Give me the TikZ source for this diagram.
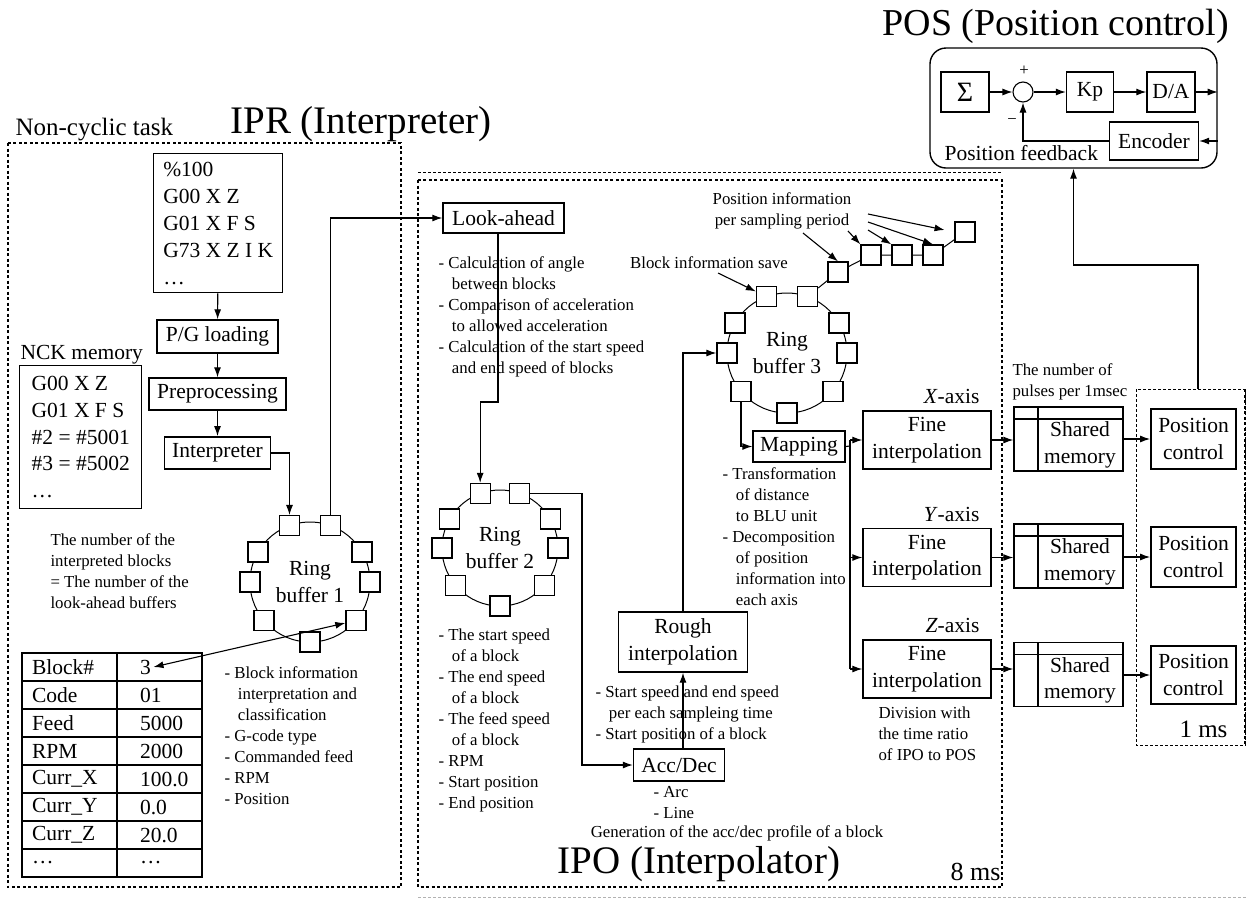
\documentclass[tikz,border=0pt]{standalone}
\usepackage{fontspec}
\setmainfont{Liberation Serif}
\usetikzlibrary{arrows.meta,calc}

\newcommand\boxfont{\fontsize{21.5}{26.5}\selectfont}
\newcommand\notefont{\fontsize{16.8}{21}\selectfont}
\newcommand\titlefont{\fontsize{39}{44}\selectfont}
\newcommand\ind{\hspace*{0.8em}}

\begin{document}
\begin{tikzpicture}[x=1pt, y=-1pt, font=\boxfont, line width=1.1pt,
    >={Latex[length=10pt,width=7pt]},
    blk/.style={draw, line width=1.4pt, inner sep=0pt, align=center},
    tcell/.style={draw, line width=1.4pt, minimum height=28pt, inner ysep=0pt, align=left},
    cell/.style={draw, fill=white, line width=1.3pt, minimum size=20pt, inner sep=0pt},
    ring/.style={draw, circle, line width=1pt, minimum size=120pt, inner sep=0pt, align=center},
    note/.style={font=\notefont, align=left, inner sep=0pt, anchor=north west},
    title/.style={anchor=base west, inner sep=0pt},
    taskbox/.style={dash pattern=on 3pt off 2.5pt, line width=1.8pt},
    thinbox/.style={dash pattern=on 3pt off 2pt, line width=0.9pt},
    shmem/.style={draw, line width=1.4pt, minimum width=109pt, minimum height=64pt, inner sep=0pt,
      path picture={\draw[line width=1.2pt]
        ([yshift=-12pt]path picture bounding box.north west) -- ([yshift=-12pt]path picture bounding box.north east)
        ([xshift=24pt]path picture bounding box.north west) -- ([xshift=24pt]path picture bounding box.south west);}}
]
\useasboundingbox (0,0) rectangle (1248,898);

% Task frames
\draw[taskbox] (8,143) rectangle (401,887);
\draw[taskbox] (418,180) rectangle (1002,887);
\draw[thinbox] (418,172) -- (1002,172);
\draw[thinbox, gray!60] (418,897) -- (1248,897);
\draw[thinbox] (1136,389) rectangle (1245,745);
\draw[taskbox] (1245,389) -- (1245,745);

% Titles
\node[title, font=\fontsize{25}{30}\selectfont] (nct) at (15,135) {Non-cyclic task};
\node[title, font=\titlefont] (iprt) at (230,133) {IPR (Interpreter)};
\node[title, font=\fontsize{38}{42}\selectfont] (post) at (882,35) {POS (Position control)};
\node[title, font=\titlefont] (ipot) at (557,873) {IPO (Interpolator)};
\node[anchor=base east, inner sep=0pt, font=\fontsize{26}{30}\selectfont] (ipoms) at (1001,880) {8 ms};
\node[anchor=base east, inner sep=0pt, font=\fontsize{25}{30}\selectfont] (posms) at (1228,737) {1 ms};

% ================================================================
% IPR (interpreter)
% ================================================================
\node[blk, anchor=north west, align=left, inner xsep=9.5pt, inner ysep=8pt,
      minimum width=129pt, minimum height=139pt, font=\fontsize{21.5}{27}\selectfont] (prog) at (153,153)
    {\%100\\G00 X Z\\G01 X F S\\G73 X Z I K\\\ldots};
\node[blk, minimum width=121pt, minimum height=33pt] (pgl) at (217.5,336.5) {P/G loading};
\node[blk, minimum width=137pt, minimum height=32pt] (pre) at (217.5,394) {Preprocessing};
\node[blk, line width=1.8pt, minimum width=106pt, minimum height=32pt] (interp) at (217.5,453) {Interpreter};

\draw[->] (prog) -- (pgl);
\draw[->] (pgl) -- (pre);
\draw[->] (pre) -- (interp);

\node[anchor=base west, inner sep=0pt] (ncklab) at (20,359) {NCK memory};
\node[blk, anchor=north west, align=left, minimum width=122pt,
      minimum height=143pt, font=\fontsize{21.5}{26.7}\selectfont] (nck) at (19,365)
    {G00 X Z\\G01 X F S\\\#2 = \#5001\\\#3 = \#5002\\\ldots};

\node[note] (nblk) at (50,533)
    {The number of the\\interpreted blocks\\= The number of the\\look-ahead buffers};

% ring buffer 1
\node[ring] (rb1) at (310,582) {Ring\\buffer 1};
\foreach \a [count=\i] in {90,140,180,210,250,290,330,0,40}
  \node[cell] (rb1-\i) at ($(rb1.center)+(\a:60)$) {};

\draw[->] (interp.east) -| (rb1-5.north);

\node[note] (iprlist) at (224,666)
    {- Block information\\\ind interpretation and\\\ind classification\\- G-code type\\- Commanded feed\\- RPM\\- Position};

% block table
\foreach \k/\v [count=\r] in {Block\#/3, Code/01, Feed/5000, RPM/2000,
    Curr\_X/100.0, Curr\_Y/0.0, Curr\_Z/20.0, \ldots/\ldots} {
  \node[tcell, text width=75pt, inner xsep=10pt] (k\r) at (69.5,639+28*\r) {\k};
  \node[tcell, text width=39pt, inner xsep=23pt] (v\r) at (159.5,639+28*\r) {\v};
}
\draw[<->] ([xshift=-6pt]v1.center) -- (rb1-9);

% ================================================================
% IPO (interpolator)
% ================================================================
\node[blk, minimum width=121pt, minimum height=30pt] (look) at (503.5,218) {Look-ahead};
\draw[->] (rb1-6.north) |- (look.west);

\node[note] (looklist) at (438,256)
    {- Calculation of angle\\\ind between blocks\\- Comparison of acceleration\\\ind to allowed acceleration\\- Calculation of the start speed\\\ind and end speed of blocks};

% ring buffer 2
\node[ring, minimum size=116pt] (rb2) at (500,548) {Ring\\buffer 2};
\foreach \a [count=\i] in {90,140,180,210,250,290,330,0,40}
  \node[cell] (rb2-\i) at ($(rb2.center)+(\a:58)$) {};

\coordinate (lk-bend) at (498,402);
\draw[->] (look.south -| lk-bend) -- (lk-bend) -| (rb2-5.north);

\node[note] (rb2list) at (438,628)
    {- The start speed\\\ind of a block\\- The end speed\\\ind of a block\\- The feed speed\\\ind of a block\\- RPM\\- Start position\\- End position};

\node[blk, minimum width=129pt, minimum height=60pt] (rough) at (683,642) {Rough\\interpolation};
\node[blk, minimum width=91pt, minimum height=32pt] (acc) at (679,765) {Acc/Dec};

\coordinate (ad-bend) at (582,765);
\draw[->] (rb2-6.east) -| (ad-bend) -- (acc.west);
\draw[->] (rough.south |- acc.north) -- (rough.south);

\node[note] (roughlist) at (595,685)
    {- Start speed and end speed\\\ind per each sampleing time\\- Start position of a block};
\node[note] (acclist) at (653,786) {- Arc\\- Line};
\node[font=\notefont, inner sep=0pt] (accgen) at (737,833) {Generation of the acc/dec profile of a block};

% ring buffer 3
\node[ring] (rb3) at (787,353) {Ring\\buffer 3};
\foreach \a [count=\i] in {90,140,180,210,250,290,330,0,40}
  \node[cell] (rb3-\i) at ($(rb3.center)+(\a:60)$) {};

\draw[->] (rough.north) |- (rb3-3.west);

% position samples
\foreach \n/\x/\y in {1/838/272, 2/871/255, 3/902/255, 4/933/255, 5/965/232}
  \node[cell] (ch\n) at (\x,\y) {};
\draw[line width=1pt] (rb3-6) -- (ch1) -- (ch2) -- (ch3) -- (ch4) -- (ch5);

\node[font=\notefont, align=center, inner sep=0pt, anchor=north] (posinfo) at (782,192)
    {Position information\\per sampling period};
\coordinate (p1) at (803,233);
\coordinate (p2) at (848,231);
\coordinate (p3) at (868,230);
\coordinate (p4) at (868,222);
\coordinate (p5) at (868,214);
\draw[->] (p1) -- (ch1.north);
\draw[->] (p2) -- (ch2.north west);
\draw[->] (p3) -- (ch3.north west);
\draw[->] (p4) -- (ch4.north);
\draw[->, shorten >=10pt] (p5) -- (ch5.west);

\node[font=\notefont, inner sep=0pt] (bis) at (709,263) {Block information save};
\coordinate (bs) at (718,273);
\draw[->] (bs) -- (rb3-5);

% mapping and fine interpolation
\node[blk, minimum width=92pt, minimum height=31pt] (map) at (799,446.5) {Mapping};
\draw[->] (rb3-2.south) |- (map.west);

\node[note] (maplist) at (722,467)
    {- Transformation\\\ind of distance\\\ind to BLU unit\\- Decomposition\\\ind of position\\\ind information into\\\ind each axis};

\node[blk, minimum width=128pt, minimum height=58pt] (finex) at (927,440) {Fine\\interpolation};
\node[blk, minimum width=128pt, minimum height=58pt] (finey) at (927,557.5) {Fine\\interpolation};
\node[blk, minimum width=128pt, minimum height=58pt] (finez) at (927,669) {Fine\\interpolation};
\node[anchor=base east, inner sep=0pt] (xlab) at (980,403) {\textit{X}-axis};
\node[anchor=base east, inner sep=0pt] (ylab) at (980,521) {\textit{Y}-axis};
\node[anchor=base east, inner sep=0pt] (zlab) at (980,632) {\textit{Z}-axis};

\coordinate (mbus) at (850,446);
\draw (map.east) -- (mbus);
\draw (mbus |- finex.west) -- (mbus |- finez.west);
\foreach \ax in {x,y,z}
  \draw[->] (mbus |- fine\ax.west) -- (fine\ax.west);

\node[note] (divnote) at (878,706) {Division with\\the time ratio\\of IPO to POS};

% shared memory and position control
\node[note] (pulses) at (1012,363) {The number of\\pulses per 1msec};

\node[shmem] (shx) at (1068.5,439) {};
\node[shmem] (shy) at (1068.5,556) {};
\node[shmem] (shz) at (1068.5,674.5) {};
\foreach \ax in {x,y,z}
  \node[align=center, inner sep=0pt] (sh\ax-t) at ($(sh\ax.center)+(11.5,6)$) {Shared\\memory};

\node[blk, line width=1.8pt, minimum width=85pt, minimum height=60pt] (pcx) at (1193.5,439) {Position\\control};
\node[blk, line width=1.8pt, minimum width=85pt, minimum height=60pt] (pcy) at (1193.5,557) {Position\\control};
\node[blk, line width=1.8pt, minimum width=85pt, minimum height=58pt] (pcz) at (1193.5,675) {Position\\control};

\foreach \ax in {x,y,z} {
  \draw[->] (fine\ax.east) -- (fine\ax.east -| sh\ax.west);
  \draw[->] (sh\ax.east |- pc\ax.west) -- (pc\ax.west);
}

% ================================================================
% POS (position control loop)
% ================================================================
\node[draw, rounded corners=16pt, line width=1.4pt, minimum width=287pt, minimum height=120pt] (posbox) at (1073.5,108) {};
\node[blk, minimum width=48pt, minimum height=40pt, font=\fontsize{28}{30}\selectfont] (sigma) at (965,92) {Σ};
\node[draw, circle, minimum size=20pt, inner sep=0pt, line width=1.1pt] (sumc) at (1023,92) {};
\node[blk, minimum width=47pt, minimum height=40pt] (kp) at (1090,92) {Kp};
\node[blk, minimum width=48pt, minimum height=40pt] (da) at (1171,92) {D/A};
\node[blk, minimum width=89pt, minimum height=38pt] (enc) at (1154,141) {Encoder};
\node[font=\notefont, inner sep=0pt] (plus) at (1024,71) {+};
\node[font=\notefont, inner sep=0pt] (minus) at (1012,121) {−};
\node[anchor=base west, inner sep=0pt] (pfb) at (944,160) {Position feedback};

\draw[->] (sigma) -- (sumc);
\draw[->] (sumc) -- (kp);
\draw[->] (kp) -- (da);
\draw[->] (da) -- (da -| posbox.east);
\draw[->] (enc -| posbox.east) -- (enc);
\draw[->] (enc.west) -| (sumc.south);

\coordinate (ms-top) at (1198,389);
\coordinate (ms-up) at (1198,265);
\draw[->] (ms-top) -- (ms-up) -| (posbox.south);

\end{tikzpicture}
\end{document}
